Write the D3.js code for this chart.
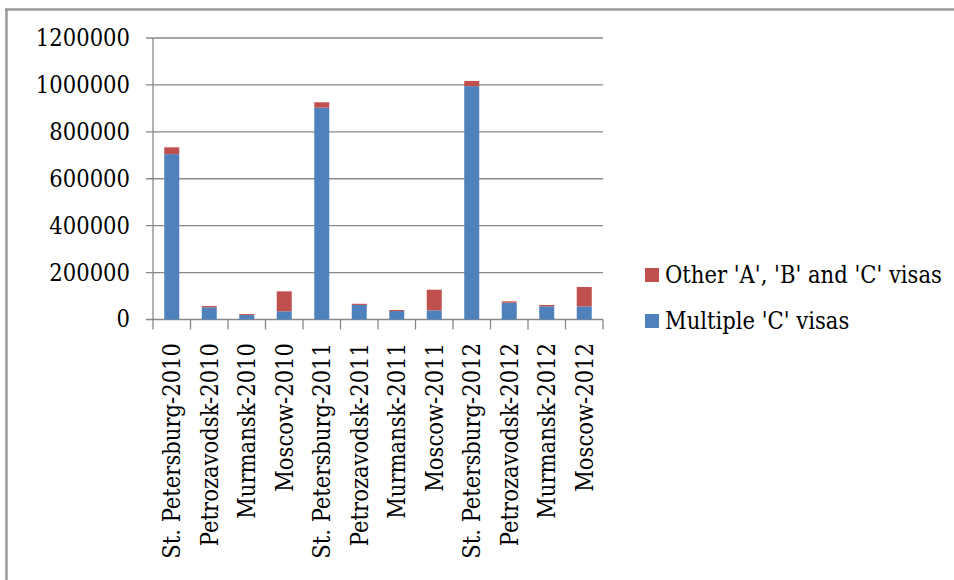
<!DOCTYPE html>
<html><head><meta charset="utf-8">
<script src="https://cdn.jsdelivr.net/npm/d3@7"></script>
<style>body{margin:0;background:#fff}svg{display:block}
svg text{font-family:"DejaVu Serif Condensed","DejaVu Serif",serif;font-stretch:condensed;}</style>
</head><body>
<svg id="c" width="954" height="580"></svg>
<script>
const categories = ["St. Petersburg-2010","Petrozavodsk-2010","Murmansk-2010","Moscow-2010",
  "St. Petersburg-2011","Petrozavodsk-2011","Murmansk-2011","Moscow-2011",
  "St. Petersburg-2012","Petrozavodsk-2012","Murmansk-2012","Moscow-2012"];
const multipleC = [705000, 52000, 19000, 35000, 903000, 62000, 36000, 39000, 995000, 71500, 56000, 56000];
const otherABC  = [29000, 5500, 4000, 85000, 23000, 5000, 4500, 88000, 22000, 6000, 6000, 82500];
const yTicks = [0,200000,400000,600000,800000,1000000,1200000];
const seriesNames = ["Multiple 'C' visas","Other 'A', 'B' and 'C' visas"];
const colors = ["#4F81BD","#C0504D"];

const svg = d3.select("#c");
const fs = 23.5;
const grid = "#898989";

svg.append("line").attr("x1",6.5).attr("x2",6.5).attr("y1",9).attr("y2",580).attr("stroke","#9a9a9a").attr("stroke-width",2.5);
svg.append("line").attr("x1",5).attr("x2",954).attr("y1",9.5).attr("y2",9.5).attr("stroke","#9a9a9a").attr("stroke-width",2.5);

const L=153, R=603, T=38, B=319.5;
const xb = d3.scaleBand().domain(categories).range([L,R]);
const y = d3.scaleLinear().domain([0,1200000]).range([B,T]);

svg.append("g").selectAll("line").data(yTicks).join("line")
  .attr("x1",L-7).attr("x2",R).attr("y1",d=>y(d)).attr("y2",d=>y(d))
  .attr("stroke",grid).attr("stroke-width",1.3);
svg.append("line").attr("x1",L).attr("x2",L).attr("y1",T).attr("y2",B).attr("stroke",grid).attr("stroke-width",1.3);
svg.append("g").selectAll("text").data(yTicks).join("text")
  .attr("x",130).attr("y",d=>y(d)).attr("dy","0.34em").attr("text-anchor","end")
  .attr("font-size",fs).attr("fill","#000").text(d=>d);

const rows = categories.map((c,i)=>({cat:c, m:multipleC[i], o:otherABC[i]}));
const stack = d3.stack().keys(["m","o"])(rows);
svg.append("g").selectAll("g").data(stack).join("g").attr("fill",(d,i)=>colors[i])
  .selectAll("rect").data(d=>d).join("rect")
  .attr("x",d=>xb(d.data.cat)+xb.bandwidth()/2-7.5).attr("width",15)
  .attr("y",d=>y(d[1])).attr("height",d=>y(d[0])-y(d[1]));

const bounds = categories.map(c=>xb(c)).concat([R]);
svg.append("g").selectAll("line").data(bounds).join("line")
  .attr("x1",d=>d).attr("x2",d=>d).attr("y1",B).attr("y2",B+10)
  .attr("stroke",grid).attr("stroke-width",1.3);

svg.append("g").selectAll("text").data(categories).join("text")
  .attr("transform",c=>`translate(${xb(c)+xb.bandwidth()/2+8.5},343) rotate(-90)`)
  .attr("text-anchor","end").attr("font-size",fs).attr("fill","#000").text(c=>c);

const leg = [{n:seriesNames[1],c:colors[1],y:268},{n:seriesNames[0],c:colors[0],y:314}];
const lg = svg.append("g").selectAll("g").data(leg).join("g");
lg.append("rect").attr("x",645).attr("y",d=>d.y).attr("width",14).attr("height",14).attr("fill",d=>d.c);
lg.append("text").attr("x",665).attr("y",d=>d.y+15).attr("font-size",fs).attr("fill","#000").text(d=>d.n);
</script>
</body></html>
